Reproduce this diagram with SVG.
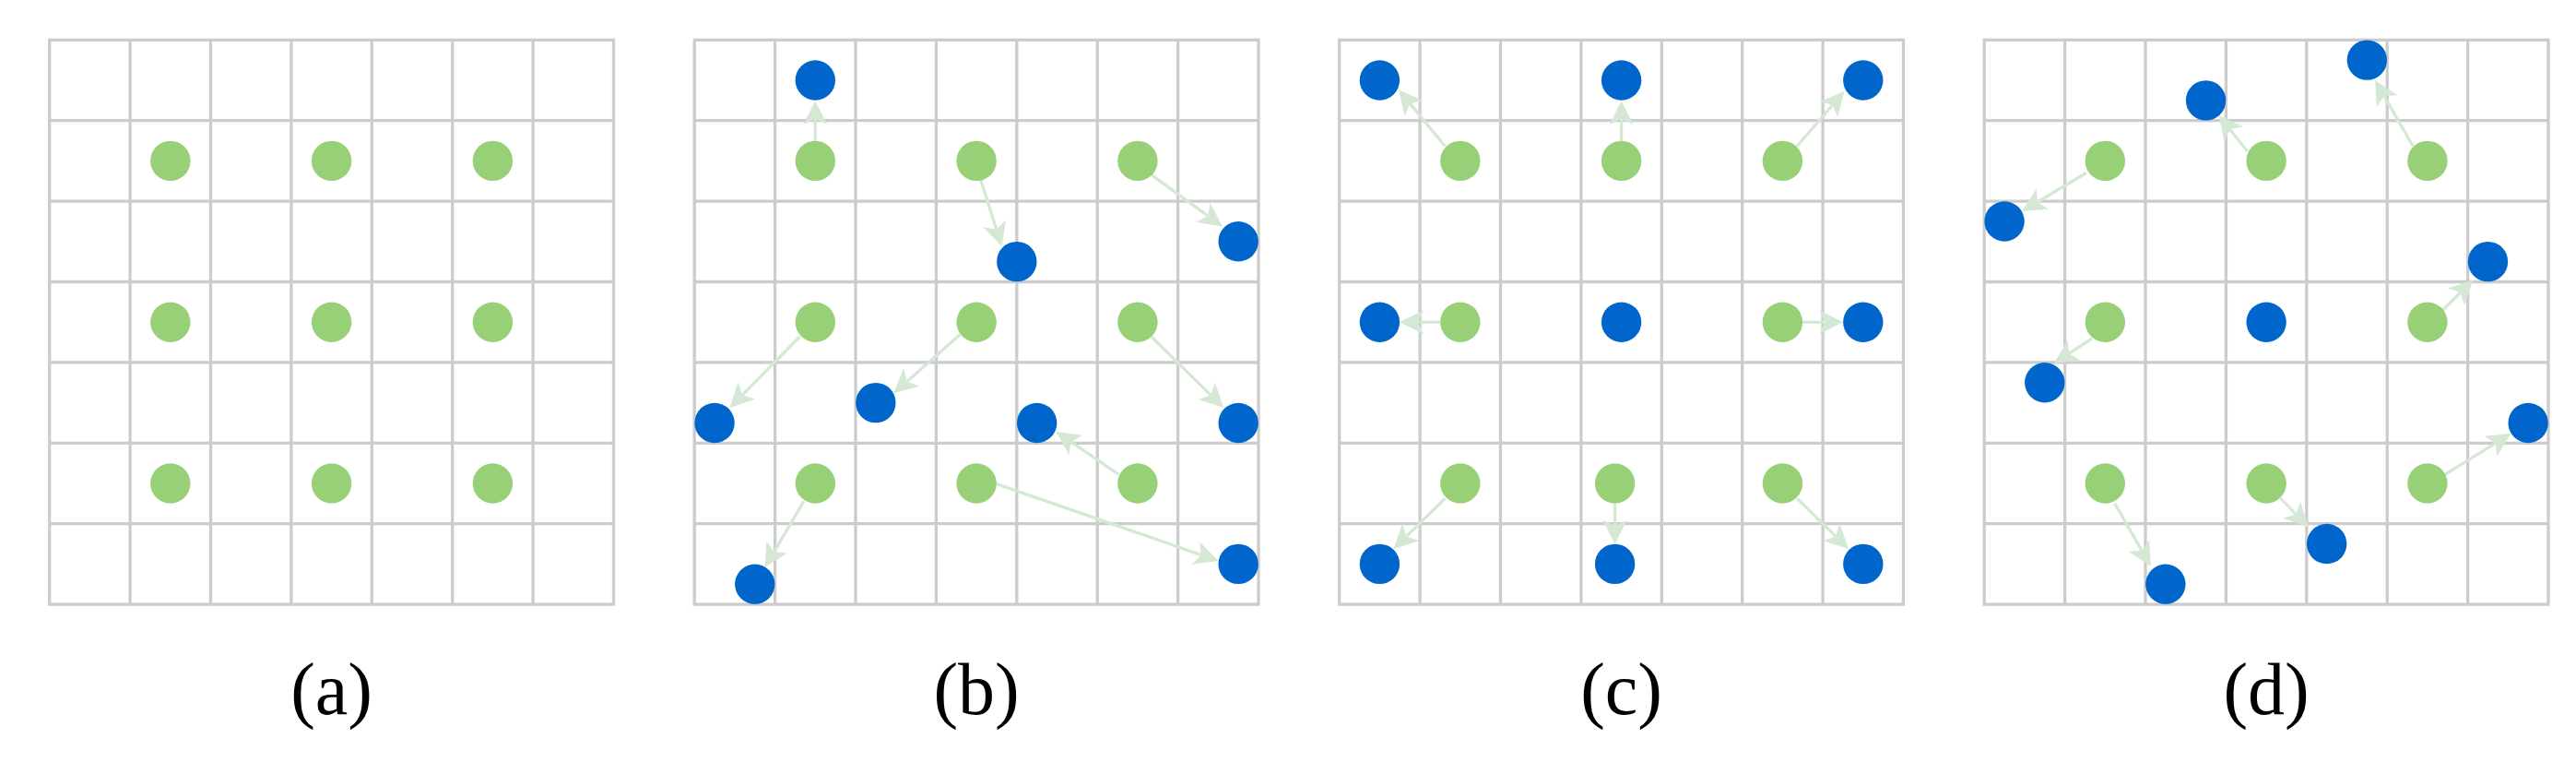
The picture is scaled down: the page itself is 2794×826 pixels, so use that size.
<svg xmlns="http://www.w3.org/2000/svg" xmlns:xlink="http://www.w3.org/1999/xlink" width="2794" height="826" viewBox="0 0 2794 826">
<style>
.grid{fill:none;stroke:#CCCCCC;stroke-width:3.3}
.g{fill:#97D077}
.b{fill:#0066CC}
.arr{stroke:#D5E8D4;stroke-width:3.3;fill:none;marker-end:url(#ah)}
.lbl{font-family:"Liberation Serif","Times New Roman",serif;font-size:80px;fill:#000;text-anchor:middle}
</style>
<defs>
<marker id="ah" markerUnits="userSpaceOnUse" viewBox="-7 -14 27 28" markerWidth="27" markerHeight="28" refX="0" refY="0" orient="auto">
<path d="M-6.5,-13 L19.5,0 L-6.5,13 L0,0 Z" fill="#D5E8D4"/>
</marker>
<g id="gridpat">
<rect class="grid" x="0" y="0" width="611.8" height="611.8"/>
<path class="grid" d="M87.4,0V611.8M174.8,0V611.8M262.2,0V611.8M349.6,0V611.8M437,0V611.8M524.4,0V611.8M0,87.4H611.8M0,174.8H611.8M0,262.2H611.8M0,349.6H611.8M0,437H611.8M0,524.4H611.8"/>
</g>
</defs>
<rect width="2794" height="826" fill="#FFFFFF"/>
<g id="grids">
<use xlink:href="#gridpat" x="53.7" y="43.3"/>
<use xlink:href="#gridpat" x="753.2" y="43.3"/>
<use xlink:href="#gridpat" x="1452.7" y="43.3"/>
<use xlink:href="#gridpat" x="2152.2" y="43.3"/>
</g>
<g id="connectors">
<line class="arr" x1="884.3" y1="152.7" x2="884.3" y2="128.8"/>
<line class="arr" x1="1063.8" y1="195.1" x2="1080.71" y2="248.41"/>
<line class="arr" x1="1249.1" y1="189.7" x2="1310.12" y2="234.04"/>
<line class="arr" x1="867.5" y1="365" x2="805.2" y2="428.12"/>
<line class="arr" x1="1041.5" y1="362.5" x2="983.82" y2="413.4"/>
<line class="arr" x1="1249.1" y1="365.2" x2="1313.3" y2="428.33"/>
<line class="arr" x1="871.9" y1="543.3" x2="839.41" y2="598.4"/>
<line class="arr" x1="1079.5" y1="524.1" x2="1302.98" y2="601.61"/>
<line class="arr" x1="1213.4" y1="514.3" x2="1161.6" y2="478.9"/>

<line class="arr" x1="1567.4" y1="158.5" x2="1529.4" y2="112.35"/>
<line class="arr" x1="1758.6" y1="152.7" x2="1758.6" y2="128.8"/>
<line class="arr" x1="1949.1" y1="158.5" x2="1987.65" y2="113.86"/>
<line class="arr" x1="1562.1" y1="349.2" x2="1537.6" y2="349.2"/>
<line class="arr" x1="1955.1" y1="349.2" x2="1979.6" y2="349.2"/>
<line class="arr" x1="1567.4" y1="540.2" x2="1525.5" y2="581.42"/>
<line class="arr" x1="1751.6" y1="545.7" x2="1751.6" y2="570.2"/>
<line class="arr" x1="1949.1" y1="540.2" x2="1991.0" y2="581.42"/>

<line class="arr" x1="2262.8" y1="187.5" x2="2209.85" y2="219.02"/>
<line class="arr" x1="2437.8" y1="164.3" x2="2418.65" y2="140.25"/>
<line class="arr" x1="2617.2" y1="158.5" x2="2585.83" y2="104.0"/>
<line class="arr" x1="2269" y1="367" x2="2244.23" y2="383.15"/>
<line class="arr" x1="2649.8" y1="335.7" x2="2668.5" y2="317.28"/>
<line class="arr" x1="2293.6" y1="545.5" x2="2323.09" y2="596.89"/>
<line class="arr" x1="2473.5" y1="540.2" x2="2490.21" y2="557.41"/>
<line class="arr" x1="2652" y1="514.3" x2="2706.82" y2="480.36"/>
</g>
<g id="panel-a">
<circle id="a-g1" class="g" cx="184.8" cy="174.4" r="21.7"/>
<circle id="a-g2" class="g" cx="359.6" cy="174.4" r="21.7"/>
<circle id="a-g3" class="g" cx="534.4" cy="174.4" r="21.7"/>
<circle id="a-g4" class="g" cx="184.8" cy="349.2" r="21.7"/>
<circle id="a-g5" class="g" cx="359.6" cy="349.2" r="21.7"/>
<circle id="a-g6" class="g" cx="534.4" cy="349.2" r="21.7"/>
<circle id="a-g7" class="g" cx="184.8" cy="524" r="21.7"/>
<circle id="a-g8" class="g" cx="359.6" cy="524" r="21.7"/>
<circle id="a-g9" class="g" cx="534.4" cy="524" r="21.7"/>
<text class="lbl" x="359.6" y="774">(a)</text>
</g>
<g id="panel-b">
<circle id="b-g1" class="g" cx="884.3" cy="174.4" r="21.7"/>
<circle id="b-g2" class="g" cx="1059.1" cy="174.4" r="21.7"/>
<circle id="b-g3" class="g" cx="1233.9" cy="174.4" r="21.7"/>
<circle id="b-g4" class="g" cx="884.3" cy="349.2" r="21.7"/>
<circle id="b-g5" class="g" cx="1059.1" cy="349.2" r="21.7"/>
<circle id="b-g6" class="g" cx="1233.9" cy="349.2" r="21.7"/>
<circle id="b-g7" class="g" cx="884.3" cy="524" r="21.7"/>
<circle id="b-g8" class="g" cx="1059.1" cy="524" r="21.7"/>
<circle id="b-g9" class="g" cx="1233.9" cy="524" r="21.7"/>
<circle id="b-b1" class="b" cx="884.3" cy="87" r="21.7"/>
<circle id="b-b2" class="b" cx="1102.8" cy="283.65" r="21.7"/>
<circle id="b-b3" class="b" cx="1343.15" cy="261.8" r="21.7"/>
<circle id="b-b4" class="b" cx="775.05" cy="458.45" r="21.7"/>
<circle id="b-b5" class="b" cx="949.85" cy="436.6" r="21.7"/>
<circle id="b-b6" class="b" cx="1124.65" cy="458.45" r="21.7"/>
<circle id="b-b7" class="b" cx="1343.15" cy="458.45" r="21.7"/>
<circle id="b-b8" class="b" cx="818.75" cy="633.25" r="21.7"/>
<circle id="b-b9" class="b" cx="1343.15" cy="611.4" r="21.7"/>
<text class="lbl" x="1059.1" y="774">(b)</text>
</g>
<g id="panel-c">
<circle id="c-g1" class="g" cx="1583.8" cy="174.4" r="21.7"/>
<circle id="c-g2" class="g" cx="1758.6" cy="174.4" r="21.7"/>
<circle id="c-g3" class="g" cx="1933.4" cy="174.4" r="21.7"/>
<circle id="c-g4" class="g" cx="1583.8" cy="349.2" r="21.7"/>
<circle id="c-g6" class="g" cx="1933.4" cy="349.2" r="21.7"/>
<circle id="c-g7" class="g" cx="1583.8" cy="524" r="21.7"/>
<circle id="c-g8" class="g" cx="1751.6" cy="524" r="21.7"/>
<circle id="c-g9" class="g" cx="1933.4" cy="524" r="21.7"/>
<circle id="c-b1" class="b" cx="1496.4" cy="87" r="21.7"/>
<circle id="c-b2" class="b" cx="1758.6" cy="87" r="21.7"/>
<circle id="c-b3" class="b" cx="2020.8" cy="87" r="21.7"/>
<circle id="c-b4" class="b" cx="1496.4" cy="349.2" r="21.7"/>
<circle id="c-b5" class="b" cx="1758.6" cy="349.2" r="21.7"/>
<circle id="c-b6" class="b" cx="2020.8" cy="349.2" r="21.7"/>
<circle id="c-b7" class="b" cx="1496.4" cy="611.4" r="21.7"/>
<circle id="c-b8" class="b" cx="1751.6" cy="611.4" r="21.7"/>
<circle id="c-b9" class="b" cx="2020.8" cy="611.4" r="21.7"/>
<text class="lbl" x="1758.6" y="774">(c)</text>
</g>
<g id="panel-d">
<circle id="d-g1" class="g" cx="2283.3" cy="174.4" r="21.7"/>
<circle id="d-g2" class="g" cx="2458.1" cy="174.4" r="21.7"/>
<circle id="d-g3" class="g" cx="2632.9" cy="174.4" r="21.7"/>
<circle id="d-g4" class="g" cx="2283.3" cy="349.2" r="21.7"/>
<circle id="d-g6" class="g" cx="2632.9" cy="349.2" r="21.7"/>
<circle id="d-g7" class="g" cx="2283.3" cy="524" r="21.7"/>
<circle id="d-g8" class="g" cx="2458.1" cy="524" r="21.7"/>
<circle id="d-g9" class="g" cx="2632.9" cy="524" r="21.7"/>
<circle id="d-b1" class="b" cx="2174.05" cy="239.95" r="21.7"/>
<circle id="d-b2" class="b" cx="2392.55" cy="108.85" r="21.7"/>
<circle id="d-b3" class="b" cx="2567.35" cy="65.15" r="21.7"/>
<circle id="d-b4" class="b" cx="2217.75" cy="414.75" r="21.7"/>
<circle id="d-b5" class="b" cx="2458.1" cy="349.2" r="21.7"/>
<circle id="d-b6" class="b" cx="2698.45" cy="283.65" r="21.7"/>
<circle id="d-b7" class="b" cx="2348.85" cy="633.25" r="21.7"/>
<circle id="d-b8" class="b" cx="2523.65" cy="589.55" r="21.7"/>
<circle id="d-b9" class="b" cx="2742.15" cy="458.45" r="21.7"/>
<text class="lbl" x="2458.1" y="774">(d)</text>
</g>
</svg>
